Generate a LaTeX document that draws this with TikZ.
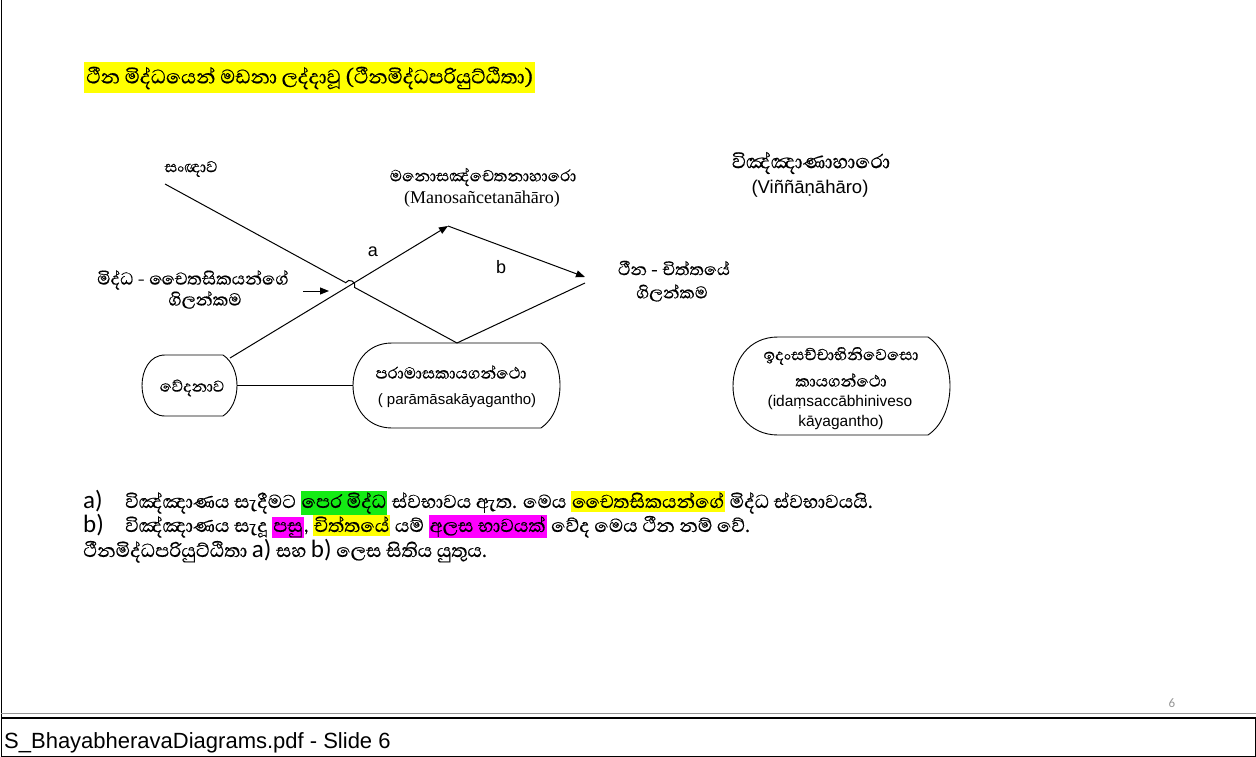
\documentclass[tikz,border=0pt]{standalone}
\usepackage{fontspec}
\usetikzlibrary{arrows.meta,calc}
\setmainfont{Liberation Sans}
\newfontfamily\sinhf[Script=Sinhala, FakeBold=0.5]{Abhaya Libre}
\newfontfamily\serifl{Liberation Serif}
\newfontfamily\calib{Carlito}
\definecolor{hlyellow}{RGB}{255,255,0}
\definecolor{hlgreen}{RGB}{20,235,20}
\definecolor{hlmagenta}{RGB}{255,0,255}
\definecolor{pagegrey}{RGB}{150,150,150}
% highlighted word run
\newcommand\hl[2]{{\fboxsep=1pt\colorbox{#1}{\rule[-3pt]{0pt}{17pt}#2}}}
\newcommand\fsz[1]{\fontsize{#1}{1.2\dimexpr#1pt\relax}\selectfont}
% box with a round left end and a shallow bulge on the right
% #1 leftmost x, #2 flat start x, #3 flat end x, #4 rightmost x, #5 top y, #6 bottom y
\newcommand\bulgebox[6]{%
  \pgfmathsetmacro\bxl{#2-4/3*(#2-#1)}%
  \pgfmathsetmacro\bxr{#3+4/3*(#4-#3)}%
  \pgfmathsetmacro\bya{#5+0.2*(#6-#5)}%
  \pgfmathsetmacro\byb{#6-0.2*(#6-#5)}%
  \draw[shapeln] (#2,#5) -- (#3,#5) .. controls (\bxr,\bya) and (\bxr,\byb) .. (#3,#6)
    -- (#2,#6) .. controls (\bxl,#6) and (\bxl,#5) .. cycle;}
\tikzset{
  lbl/.style={inner sep=0pt, align=center},
  shapeln/.style={draw=black, line width=0.9pt},
  conn/.style={line width=1pt},
  arr/.style={conn, -{Triangle[length=9pt,width=7pt]}},
}
\begin{document}
\begin{tikzpicture}[x=1pt,y=-1pt]
\useasboundingbox (0,0) rectangle (1256,757);
\fill[white] (0,0) rectangle (1256,757);

% page frame and footer
\draw[line width=1pt] (1,0) -- (1,757);
\draw[pagegrey, line width=0.8pt] (1,713) -- (1256,713);
\draw[line width=1.6pt] (1,718) -- (1256,718);
\draw[line width=1pt] (1,756) -- (1255,756) -- (1255,718);
\node[anchor=base west, inner sep=0pt] (footer) at (4,748) {\fsz{22}S\_BhayabheravaDiagrams.pdf - Slide 6};
\node[anchor=base, inner sep=0pt, text=pagegrey] (pageno) at (1172,707) {\calib\fsz{13}6};

% heading
\node[fill=hlyellow, anchor=west, inner xsep=2pt, minimum height=31pt] (title) at (84,78)
  {\sinhf\fsz{25}ථීන මිද්ධයෙන් මඩනා ලද්දාවූ (ථීනමිද්ධපරියුට්ඨිතා)};

% labels
\node[lbl] (sanj) at (191,169) {\sinhf\fsz{20}සංඥාව};
\node[lbl] (middha1) at (193,280) {\sinhf\fsz{22}මිද්ධ - චෛතසිකයන්ගේ};
\node[lbl] (middha2) at (205,300) {\sinhf\fsz{22}ගිලන්කම};
\node[lbl] (mano1) at (483,177) {\sinhf\fsz{20.5}මනොසඤ්චෙතනාහාරො};
\node[lbl] (mano2) at (482,199) {\serifl\fsz{18}(Manosañcetanāhāro)};
\node[lbl] (vinn1) at (811,163) {\sinhf\fsz{25}විඤ්ඤාණාහාරො};
\node[lbl] (vinn2) at (810,189) {\fsz{18.5}(Viññāṇāhāro)};
\node[lbl] (theena1) at (674,268) {\sinhf\fsz{21.5}ථීන - චිත්තයේ};
\node[lbl] (theena2) at (672,293) {\sinhf\fsz{21.5}ගිලන්කම};
\node[lbl] (la) at (373,252) {\fsz{18}a};
\node[lbl] (lb) at (501,267) {\fsz{18}b};

% boxes
\bulgebox{142}{165}{223}{237}{355}{416}
\node[lbl] (ved) at (192,388) {\sinhf\fsz{20}වේදනාව};
\bulgebox{353}{392}{541}{560}{343}{428}
\node[lbl] (para1) at (451,372) {\sinhf\fsz{20.5}පරාමාසකායගන්ථො};
\node[lbl] (para2) at (457,401) {\fsz{15}( parāmāsakāyagantho)};
\bulgebox{733}{778}{928}{950}{337}{435}
\node[lbl] (idam1) at (841,356) {\sinhf\fsz{20.5}ඉදංසච්චාභිනිවෙසො};
\node[lbl] (idam2) at (841,380) {\sinhf\fsz{20.5}කායගන්ථො};
\node[lbl] (idam3) at (840,402) {\fsz{15.5}(idaṃsaccābhiniveso};
\node[lbl] (idam4) at (841,422) {\fsz{15.5}kāyagantho)};

% attachment points
\coordinate (sjStart) at (165,184);
\coordinate (apex) at (457,343);
\coordinate (hopA) at (345.7,282.7);
\coordinate (hopB) at (354.5,287.4);
\coordinate (vedTop) at (230,358);
\coordinate (vedRight) at (237,385);
\coordinate (paraLeft) at (353,385);
\coordinate (manoTip) at (448,226);
\coordinate (theenaTip) at (585,277);
\coordinate (theenaArm) at (585,283);
\coordinate (midArrS) at (303,291);
\coordinate (midArrE) at (329,291);

% connectors
\draw[conn] (sjStart) -- (hopA) .. controls (348.5,277.4) and (357.3,282.1) .. (hopB) -- (apex);
\draw[conn] (theenaArm) -- (apex);
\draw[arr] (vedTop) -- (manoTip);
\draw[arr] (manoTip) -- (theenaTip);
\draw[conn] (vedRight) -- (paraLeft);
\draw[arr] (midArrS) -- (midArrE);

% notes
\node[anchor=base west, inner sep=0pt] (noteA) at (83,508)
  {\makebox[42pt][l]{\calib\fsz{25}a)}\sinhf\fsz{24}විඤ්ඤාණය සැදීමට \hl{hlgreen}{පෙර මිද්ධ} ස්වභාවය ඇත. මෙය \hl{hlyellow}{චෛතසිකයන්ගේ} මිද්ධ ස්වභාවයයි.};
\node[anchor=base west, inner sep=0pt] (noteB) at (83,532)
  {\makebox[42pt][l]{\calib\fsz{25}b)}\sinhf\fsz{24}විඤ්ඤාණය සැදූ \hl{hlmagenta}{පසු}, \hl{hlyellow}{චිත්තයේ} යම් \hl{hlmagenta}{අලස භාවයක්} වේද මෙය ථීන නම් වේ.};
\node[anchor=base west, inner sep=0pt] (noteC) at (83,557)
  {\sinhf\fsz{24}ථීනමිද්ධපරියුට්ඨිතා {\calib\fsz{25}a)} සහ {\calib\fsz{25}b)} ලෙස සිතිය යුතුය.};
\end{tikzpicture}
\end{document}
